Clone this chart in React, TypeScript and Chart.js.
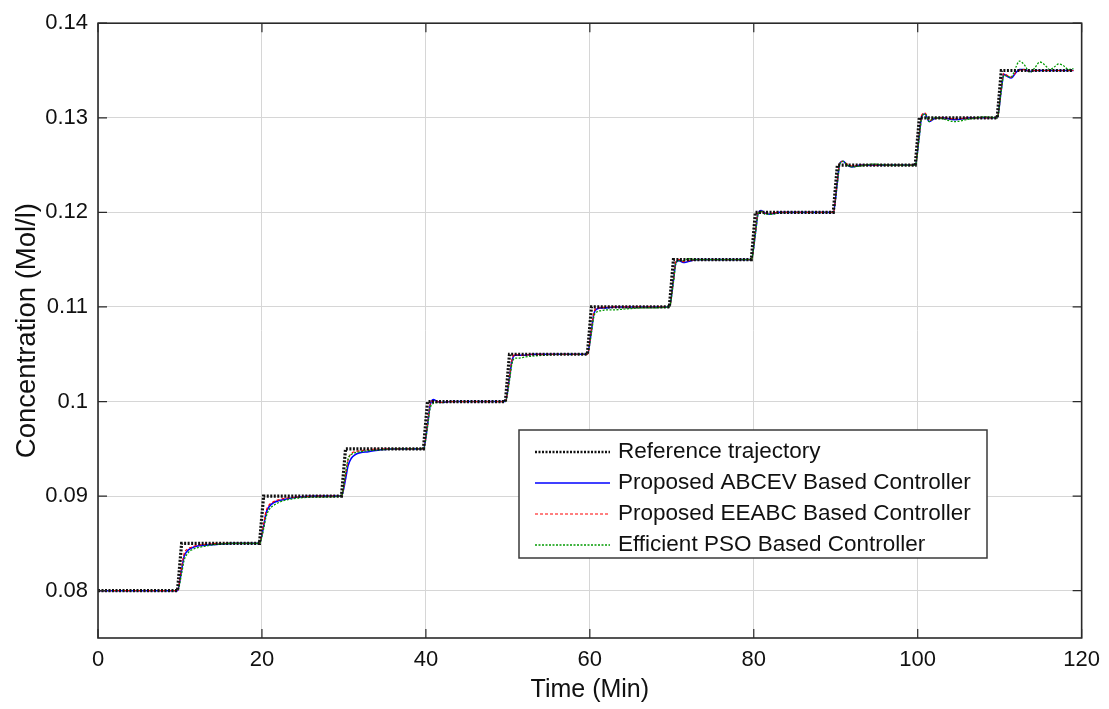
import React, { useEffect, useRef } from "react";
import { Chart, registerables } from "chart.js";

Chart.register(...registerables);

// ---------- DATA ----------
const X_TICKS = [0, 20, 40, 60, 80, 100, 120];
const Y_TICKS = [0.08, 0.09, 0.1, 0.11, 0.12, 0.13, 0.14];

const LEGEND_LABELS = [
  "Reference trajectory",
  "Proposed ABCEV Based Controller",
  "Proposed EEABC Based Controller",
  "Efficient PSO Based Controller",
];

// Reference staircase (time, value)
const refTime = [
  0, 9.7, 10.2, 19.7, 20.2, 29.7, 30.2, 39.7, 40.2, 49.7, 50.2, 59.7, 60.2,
  69.7, 70.2, 79.7, 80.2, 89.7, 90.2, 99.7, 100.2, 109.7, 110.2, 119,
];
const refValue = [
  0.08, 0.08, 0.085, 0.085, 0.09, 0.09, 0.095, 0.095, 0.1, 0.1, 0.105, 0.105,
  0.11, 0.11, 0.115, 0.115, 0.12, 0.12, 0.125, 0.125, 0.13, 0.13, 0.135, 0.135,
];

// Shared time samples of the controller responses
const respTime = [
  0,
  9.7, 10.2, 10.5, 10.9, 11.4, 12, 13, 14.5, 16.5,
  19.7, 20.2, 20.5, 20.9, 21.4, 22, 23, 24.5, 26.5,
  29.7, 30.2, 30.5, 30.9, 31.4, 32, 33, 34.5, 36.5,
  39.7, 40.2, 40.5, 40.9, 41.4, 42, 43, 44.5, 46.5,
  49.7, 50.2, 50.5, 50.9, 51.4, 52, 53, 54.5, 56.5,
  59.7, 60.2, 60.5, 60.9, 61.4, 62, 63, 64.5, 66.5,
  69.7, 70.2, 70.5, 70.9, 71.4, 72, 73, 74.5, 76.5,
  79.7, 80.2, 80.5, 80.9, 81.4, 82, 83, 84.5, 86.5,
  89.7, 90.2, 90.5, 90.9, 91.4, 92, 93, 94.5, 96.5,
  99.7, 100.2, 100.5, 100.9, 101.4, 102, 103, 104.5, 106.5, 108.2,
  109.7, 110.2, 110.5, 110.9, 111.4, 112, 112.4, 113, 113.7, 114.3, 114.9, 115.5, 116.1, 116.7, 117.2, 117.8, 118.4, 119,
];

const abcev = [
  0.08,
  0.08, 0.0822, 0.0836, 0.0842, 0.0845, 0.0847, 0.0848, 0.0849, 0.085,
  0.085, 0.0868, 0.0882, 0.0889, 0.0893, 0.0895, 0.0897, 0.0899, 0.09,
  0.09, 0.0918, 0.0932, 0.094, 0.0944, 0.0946, 0.0947, 0.0949, 0.095,
  0.095, 0.0975, 0.0995, 0.1002, 0.1, 0.0999, 0.1, 0.1, 0.1,
  0.1, 0.1025, 0.1043, 0.1049, 0.1049, 0.1049, 0.105, 0.105, 0.105,
  0.105, 0.1075, 0.1093, 0.1098, 0.1099, 0.1099, 0.11, 0.11, 0.11,
  0.11, 0.1128, 0.1147, 0.1149, 0.1147, 0.1148, 0.115, 0.115, 0.115,
  0.115, 0.1178, 0.1198, 0.1202, 0.1199, 0.1198, 0.12, 0.12, 0.12,
  0.12, 0.1232, 0.1252, 0.1254, 0.125, 0.1248, 0.125, 0.125, 0.125,
  0.125, 0.1282, 0.1302, 0.1304, 0.1296, 0.1299, 0.13, 0.1298, 0.13, 0.13,
  0.13, 0.133, 0.1346, 0.1344, 0.1342, 0.1348, 0.1351, 0.1351, 0.1349, 0.135, 0.135, 0.135, 0.135, 0.135, 0.135, 0.135, 0.135, 0.135,
];

const eeabc = [
  0.08,
  0.08, 0.0825, 0.0839, 0.0844, 0.0846, 0.0848, 0.0849, 0.085, 0.085,
  0.085, 0.087, 0.0884, 0.0891, 0.0894, 0.0896, 0.0898, 0.0899, 0.09,
  0.09, 0.0922, 0.0938, 0.0945, 0.0947, 0.0948, 0.0949, 0.095, 0.095,
  0.095, 0.0976, 0.0996, 0.1001, 0.1, 0.0999, 0.1, 0.1, 0.1,
  0.1, 0.1026, 0.1044, 0.105, 0.1049, 0.1049, 0.105, 0.105, 0.105,
  0.105, 0.1076, 0.1094, 0.1099, 0.1099, 0.11, 0.11, 0.11, 0.11,
  0.11, 0.1128, 0.1148, 0.115, 0.1148, 0.1149, 0.115, 0.115, 0.115,
  0.115, 0.1179, 0.1199, 0.1201, 0.1199, 0.1199, 0.12, 0.12, 0.12,
  0.12, 0.1233, 0.1253, 0.1254, 0.1251, 0.1249, 0.125, 0.125, 0.125,
  0.125, 0.1283, 0.1303, 0.1305, 0.1297, 0.1299, 0.13, 0.1299, 0.13, 0.13,
  0.13, 0.1331, 0.1347, 0.1345, 0.1343, 0.1348, 0.135, 0.1351, 0.1349, 0.135, 0.135, 0.135, 0.135, 0.135, 0.135, 0.135, 0.135, 0.135,
];

const pso = [
  0.08,
  0.08, 0.0818, 0.0832, 0.0839, 0.0843, 0.0845, 0.0847, 0.0849, 0.085,
  0.085, 0.0865, 0.0878, 0.0886, 0.089, 0.0893, 0.0896, 0.0898, 0.0899,
  0.09, 0.0924, 0.0939, 0.0944, 0.0946, 0.0947, 0.0948, 0.0949, 0.095,
  0.095, 0.0973, 0.0992, 0.0998, 0.0999, 0.0999, 0.1, 0.1, 0.1,
  0.1, 0.1022, 0.104, 0.1046, 0.1046, 0.1047, 0.1048, 0.1049, 0.105,
  0.105, 0.1073, 0.109, 0.1095, 0.1096, 0.1097, 0.1097, 0.1098, 0.1099,
  0.11, 0.1126, 0.1146, 0.1149, 0.1149, 0.1151, 0.115, 0.115, 0.115,
  0.115, 0.1177, 0.1197, 0.1201, 0.1198, 0.1198, 0.1199, 0.12, 0.12,
  0.12, 0.1231, 0.1251, 0.1254, 0.125, 0.1248, 0.1249, 0.1251, 0.125,
  0.125, 0.128, 0.1301, 0.1304, 0.1296, 0.13, 0.1299, 0.1296, 0.1299, 0.1301,
  0.13, 0.1329, 0.1345, 0.1344, 0.1343, 0.1354, 0.136, 0.1356, 0.1348, 0.1353, 0.1359, 0.1356, 0.1351, 0.1354, 0.1357, 0.1355, 0.1351, 0.1352,
];

// ---------- STYLE ----------
const FONT = "'Liberation Sans', Arial, Helvetica, sans-serif";
const REF_COLOR = "#111111";
const BLUE = "#0000ff";
const RED = "#ff0000";
const GREEN = "#009a00";

const styles = [
  { color: REF_COLOR, width: 3.2, dash: [2, 1.5] },
  { color: BLUE, width: 1.6, dash: [] as number[] },
  { color: RED, width: 1.2, dash: [3, 2] },
  { color: GREEN, width: 1.3, dash: [2, 1.5] },
];

const boxPlugin = {
  id: "matlabBox",
  afterDatasetsDraw(chart: any) {
    const { ctx, chartArea: a, scales } = chart;
    ctx.save();
    ctx.strokeStyle = "#2a2a2a";
    ctx.lineWidth = 1.6;
    ctx.setLineDash([]);
    ctx.strokeRect(a.left, a.top, a.right - a.left, a.bottom - a.top);
    const tl = 9;
    ctx.lineWidth = 1.2;
    ctx.beginPath();
    for (const v of X_TICKS) {
      const px = scales.x.getPixelForValue(v);
      ctx.moveTo(px, a.bottom);
      ctx.lineTo(px, a.bottom - tl);
      ctx.moveTo(px, a.top);
      ctx.lineTo(px, a.top + tl);
    }
    for (const v of Y_TICKS) {
      const py = scales.y.getPixelForValue(v);
      ctx.moveTo(a.left, py);
      ctx.lineTo(a.left + tl, py);
      ctx.moveTo(a.right, py);
      ctx.lineTo(a.right - tl, py);
    }
    ctx.stroke();
    ctx.restore();
  },
};

const legendPlugin = {
  id: "insideLegend",
  afterDraw(chart: any) {
    const { ctx } = chart;
    const left = 519;
    const top = 430;
    const w = 468;
    const h = 128;
    ctx.save();
    ctx.fillStyle = "#ffffff";
    ctx.fillRect(left, top, w, h);
    ctx.strokeStyle = "#3a3a3a";
    ctx.lineWidth = 1.5;
    ctx.setLineDash([]);
    ctx.strokeRect(left, top, w, h);
    ctx.font = `22.5px ${FONT}`;
    ctx.textBaseline = "middle";
    ctx.textAlign = "left";
    LEGEND_LABELS.forEach((label, i) => {
      const y = top + 22 + i * 31;
      const s = styles[i];
      ctx.beginPath();
      ctx.strokeStyle = s.color;
      ctx.lineWidth = i === 0 ? 2.5 : s.width;
      ctx.setLineDash(s.dash);
      ctx.moveTo(535, y);
      ctx.lineTo(610, y);
      ctx.stroke();
      ctx.setLineDash([]);
      ctx.fillStyle = "#111111";
      ctx.fillText(label, 618, y);
    });
    ctx.restore();
  },
};

function toPoints(xs: number[], ys: number[]) {
  return xs.map((x, i) => ({ x, y: ys[i] }));
}

export default function App() {
  const ref = useRef<HTMLCanvasElement>(null);
  useEffect(() => {
    document.body.style.margin = "0";
    const chart = new Chart(ref.current as HTMLCanvasElement, {
      type: "line",
      data: {
        datasets: [
          {
            label: LEGEND_LABELS[0],
            data: toPoints(refTime, refValue),
            borderColor: styles[0].color,
            borderWidth: styles[0].width,
            borderDash: styles[0].dash,
            pointRadius: 0,
            tension: 0,
            order: 0,
          },
          {
            label: LEGEND_LABELS[1],
            data: toPoints(respTime, abcev),
            borderColor: styles[1].color,
            borderWidth: styles[1].width,
            pointRadius: 0,
            cubicInterpolationMode: "monotone",
            order: 3,
          },
          {
            label: LEGEND_LABELS[2],
            data: toPoints(respTime, eeabc),
            borderColor: styles[2].color,
            borderWidth: styles[2].width,
            borderDash: styles[2].dash,
            pointRadius: 0,
            cubicInterpolationMode: "monotone",
            order: 2,
          },
          {
            label: LEGEND_LABELS[3],
            data: toPoints(respTime, pso),
            borderColor: styles[3].color,
            borderWidth: styles[3].width,
            borderDash: styles[3].dash,
            pointRadius: 0,
            cubicInterpolationMode: "monotone",
            order: 1,
          },
        ],
      },
      options: {
        responsive: false,
        animation: false,
        events: [],
        layout: { padding: { left: 0, right: 27, top: 18, bottom: 0 } },
        plugins: {
          legend: { display: false },
          tooltip: { enabled: false },
        },
        scales: {
          x: {
            type: "linear",
            min: 0,
            max: 120,
            afterBuildTicks: (s: any) => {
              s.ticks = X_TICKS.map((v) => ({ value: v }));
            },
            afterFit: (s: any) => {
              s.height = 71;
            },
            grid: { color: "#d6d6d6", lineWidth: 1, drawTicks: false },
            border: { display: false },
            ticks: {
              padding: 9,
              color: "#111111",
              font: { family: FONT, size: 22 },
              maxRotation: 0,
            },
            title: {
              display: true,
              text: "Time (Min)",
              color: "#111111",
              font: { family: FONT, size: 25 },
              padding: { top: 0, bottom: 4 },
            },
          },
          y: {
            type: "linear",
            min: 0.075,
            max: 0.14,
            afterBuildTicks: (s: any) => {
              s.ticks = Y_TICKS.map((v) => ({ value: v }));
            },
            afterFit: (s: any) => {
              s.width = 98;
            },
            grid: { color: "#d6d6d6", lineWidth: 1, drawTicks: false },
            border: { display: false },
            ticks: {
              padding: 10,
              color: "#111111",
              font: { family: FONT, size: 22 },
              callback: (v: any) => String(Number(Number(v).toFixed(3))),
            },
            title: {
              display: true,
              text: "Concentration (Mol/l)",
              color: "#111111",
              font: { family: FONT, size: 27.5 },
              padding: { top: 11, bottom: 0 },
            },
          },
        },
      },
      plugins: [boxPlugin, legendPlugin],
    });
    return () => chart.destroy();
  }, []);

  return (
    <div style={{ position: "absolute", left: 0, top: 0, width: 1109, height: 709, background: "#ffffff" }}>
      <canvas ref={ref} width={1109} height={709} />
    </div>
  );
}
